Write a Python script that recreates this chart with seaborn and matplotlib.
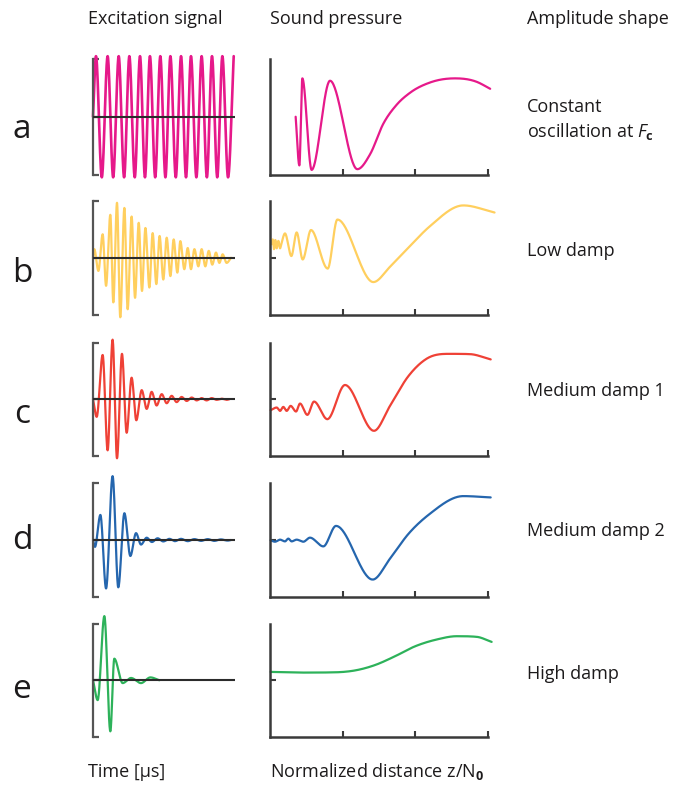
import numpy as np
import pandas as pd
import matplotlib
matplotlib.use("Agg")
import matplotlib.pyplot as plt
import seaborn as sns

# ---------------- data ----------------
ROW_LETTERS = ["a", "b", "c", "d", "e"]
SHAPE_LABELS = ["Constant\noscillation at $\\mathit{F}_{\\mathbf{c}}$", "Low damp",
                "Medium damp 1", "Medium damp 2", "High damp"]
HEADERS = ["Excitation signal", "Sound pressure", "Amplitude shape"]
FOOTERS = ["Time [\u00b5s]", "Normalized distance z/N$_{\\mathbf{0}}$"]
COLORS = ["#E6198A", "#FFCF5E", "#EF4136", "#2566AE", "#2DB25A"]

# excitation signals: extrema (time in % of window, amplitude)
A_EXC_T = [0, 2.1, 6.2, 10.3, 14.2, 18.1, 21.9, 25.6, 29.4, 33.1, 36.6, 40.1, 43.8, 47.4,
           51.0, 54.5, 58.3, 62.0, 65.5, 69.0, 72.8, 76.5, 80.2, 83.8, 87.5, 91.1, 95.1, 99.1]
A_EXC_V = [0, 1.04, -1.04, 1.04, -1.04, 1.04, -1.04, 1.04, -1.04, 1.04, -1.04, 1.04, -1.04, 1.04,
           -1.04, 1.04, -1.04, 1.04, -1.04, 1.04, -1.04, 1.04, -1.04, 1.04, -1.04, 1.04, -1.04, 1.04]
B_EXC_T = [0, 0.9, 3.8, 6.8, 9.2, 12.2, 14.3, 16.9, 19.2, 22.1, 24.4, 27.2, 29.6, 32.2, 34.5,
           36.9, 39.7, 42.0, 44.6, 46.9, 49.5, 51.9, 54.5, 56.8, 59.4, 61.5, 64.3, 66.7, 69.0,
           71.4, 74.2, 76.5, 79.1, 81.5, 84.0, 86.6, 89.0, 91.3, 94.1, 97.2]
B_EXC_V = [0, 0.15, -0.23, 0.41, -0.49, 0.75, -0.78, 0.96, -1.04, 0.87, -0.90, 0.72, -0.70,
           0.61, -0.58, 0.52, -0.52, 0.43, -0.46, 0.38, -0.38, 0.35, -0.32, 0.32, -0.26, 0.29,
           -0.20, 0.17, -0.20, 0.15, -0.15, 0.15, -0.15, 0.12, -0.12, 0.09, -0.09, 0.06, -0.09, 0.0]
C_EXC_T = [0, 2.6, 6.8, 10.3, 13.8, 16.9, 20.4, 23.7, 27.2, 30.5, 34.3, 37.8, 41.3, 44.8, 48.4,
           51.9, 55.4, 58.9, 62.4, 66.0, 69.5, 73.0, 76.5, 80.0, 83.6, 87.1, 90.6, 94.1, 96.0]
C_EXC_V = [0, -0.31, 0.78, -0.90, 1.05, -1.04, 0.80, -0.59, 0.38, -0.37, 0.16, -0.17, 0.13,
           -0.11, 0.09, -0.07, 0.06, -0.05, 0.04, -0.03, 0.03, -0.02, 0.02, -0.02, 0.02, -0.01,
           0.01, -0.01, 0]
D_EXC_T = [0, 1.4, 5.2, 9.2, 13.8, 17.8, 22.1, 26.3, 30.3, 33.8, 37.8, 41.5, 45.5, 49.5, 53.8,
           57.7, 62.0, 66.7, 71.4, 76.1, 80.8, 85.4, 90.1, 94.8, 97.2]
D_EXC_V = [0, -0.12, 0.44, -0.85, 1.12, -0.83, 0.47, -0.28, 0.12, -0.08, 0.04, -0.035, 0.03,
           -0.025, 0.02, -0.02, 0.02, -0.02, 0.015, -0.015, 0.015, -0.015, 0.01, -0.01, 0]
E_EXC_T = [0, 3.3, 8.0, 12.2, 15.0, 20.9, 26.8, 33.8, 40.4, 46.7]
E_EXC_V = [0, -0.35, 1.13, -0.90, 0.38, -0.05, 0.04, -0.05, 0.05, 0]

# sound pressure along normalized distance z/N0
A_SP_X = [0.353, 0.404, 0.445, 0.573, 0.826, 1.202, 1.376, 1.560, 1.743, 1.927, 2.202, 2.546,
          2.844, 3.03]
A_SP_Y = [0.0, -0.835, 0.659, -0.912, 0.618, -0.90, -0.647, -0.118, 0.206, 0.412, 0.588, 0.659,
          0.60, 0.48]
B_SP_X = [0.023, 0.037, 0.055, 0.073, 0.092, 0.115, 0.138, 0.16, 0.206, 0.294, 0.367, 0.45,
          0.564, 0.794, 0.927, 1.422, 1.65, 1.90, 2.20, 2.661, 3.09]
B_SP_Y = [0.236, 0.32, 0.15, 0.31, 0.165, 0.295, 0.165, 0.265, 0.425, 0.03, 0.442, -0.03,
          0.484, -0.189, 0.667, -0.425, -0.16, 0.17, 0.55, 0.914, 0.79]
C_SP_X = [0.009, 0.092, 0.138, 0.183, 0.229, 0.284, 0.358, 0.413, 0.514, 0.606, 0.789, 1.032,
          1.431, 1.65, 1.90, 2.15, 2.477, 2.752, 3.037]
C_SP_Y = [-0.193, -0.146, -0.205, -0.135, -0.205, -0.117, -0.216, -0.076, -0.275, -0.041,
          -0.351, 0.251, -0.556, -0.12, 0.40, 0.71, 0.80, 0.795, 0.702]
D_SP_X = [0.009, 0.069, 0.138, 0.206, 0.252, 0.298, 0.367, 0.459, 0.55, 0.734, 0.908, 1.413,
          1.65, 1.90, 2.20, 2.66, 3.037]
D_SP_Y = [-0.006, -0.03, 0.006, -0.024, 0.024, -0.024, 0.006, -0.03, 0.041, -0.112, 0.247,
          -0.694, -0.33, 0.10, 0.46, 0.77, 0.747]
E_SP_X = [0.009, 0.413, 0.90, 1.20, 1.45, 1.70, 2.00, 2.30, 2.569, 2.844, 3.05]
E_SP_Y = [0.147, 0.135, 0.14, 0.18, 0.27, 0.41, 0.60, 0.72, 0.776, 0.765, 0.676]

EXC = [(A_EXC_T, A_EXC_V), (B_EXC_T, B_EXC_V), (C_EXC_T, C_EXC_V), (D_EXC_T, D_EXC_V), (E_EXC_T, E_EXC_V)]
SP = [(A_SP_X, A_SP_Y), (B_SP_X, B_SP_Y), (C_SP_X, C_SP_Y), (D_SP_X, D_SP_Y), (E_SP_X, E_SP_Y)]


def smooth(x, y, n=40):
    """Smooth Hermite curve through the read points (Fritsch-Carlson limited)."""
    x = np.asarray(x, float); y = np.asarray(y, float)
    h = np.diff(x); d = np.diff(y) / h
    m = np.zeros_like(y)
    m[0], m[-1] = d[0], d[-1]
    for k in range(1, len(x) - 1):
        if d[k - 1] * d[k] > 0:
            m[k] = (d[k - 1] * h[k] + d[k] * h[k - 1]) / (h[k - 1] + h[k])
    for k in range(len(x) - 1):
        if d[k] == 0:
            m[k] = m[k + 1] = 0
            continue
        a, b = m[k] / d[k], m[k + 1] / d[k]
        s = a * a + b * b
        if s > 9:
            tau = 3 / np.sqrt(s)
            m[k] = tau * a * d[k]; m[k + 1] = tau * b * d[k]
    xs, ys = [], []
    for k in range(len(x) - 1):
        t = np.linspace(0, 1, n, endpoint=False)
        h00 = 2 * t**3 - 3 * t**2 + 1; h10 = t**3 - 2 * t**2 + t
        h01 = -2 * t**3 + 3 * t**2; h11 = t**3 - t**2
        xs.append(x[k] + t * h[k])
        ys.append(h00 * y[k] + h10 * h[k] * m[k] + h01 * y[k + 1] + h11 * h[k] * m[k + 1])
    xs.append([x[-1]]); ys.append([y[-1]])
    return np.concatenate(xs), np.concatenate(ys)


# ---------------- figure ----------------
sns.set_theme(style="white")
plt.rcParams["font.family"] = ["Open Sans", "DejaVu Sans"]
plt.rcParams["mathtext.fontset"] = "custom"
plt.rcParams["mathtext.it"] = "Open Sans:italic"
plt.rcParams["mathtext.bf"] = "Open Sans:bold"
plt.rcParams["mathtext.rm"] = "Open Sans"

W, H = 677, 787
fig = plt.figure(figsize=(W / 100, H / 100), dpi=100)
fig.patch.set_facecolor("white")


def rect(x0, y0, x1, y1):
    return [x0 / W, 1 - y1 / H, (x1 - x0) / W, (y1 - y0) / H]


TOPS = [58.5, 200.5, 342.5, 483, 623.5]
BOTS = [175, 315, 456, 597, 737]
LETTER_BASE = [138, 282, 423, 549, 698]
SHAPE_Y = [120, 251, 391, 531, 674]
TXT = "#1c1a1b"
FS = 13

for i in range(5):
    col = COLORS[i]
    # --- excitation signal
    ax = fig.add_axes(rect(93, TOPS[i], 235, BOTS[i]))
    t, v = EXC[i]
    xs, ys = smooth(t, v, n=24)
    sns.lineplot(x=xs, y=ys, ax=ax, color=col, lw=1.9 if i == 0 else 1.6,
                 estimator=None, sort=False)
    for ln in ax.lines:
        ln.set_clip_on(False)
    ax.axhline(0, color="#2b2b2b", lw=1.5, zorder=5)
    ax.set_xlim(0, 100); ax.set_ylim(-1, 1)
    for s in ["top", "right", "bottom"]:
        ax.spines[s].set_visible(False)
    ax.spines["left"].set_color("#555555"); ax.spines["left"].set_linewidth(1.6)
    ax.set_xticks([]); ax.set_yticks([-1, 0, 1])
    ax.tick_params(axis="y", direction="in", length=4, width=1.6, color="#555555",
                   labelleft=False, left=True)
    ax.set_xlabel(""); ax.set_ylabel(""); ax.patch.set_alpha(0)

    # --- sound pressure
    ax2 = fig.add_axes(rect(270, TOPS[i], 488, BOTS[i]))
    x, y = SP[i]
    xs, ys = smooth(x, y, n=40)
    sns.lineplot(x=xs, y=ys, ax=ax2, color=col, lw=1.6, estimator=None, sort=False)
    for ln in ax2.lines:
        ln.set_clip_on(False)
    ax2.set_xlim(0, 3); ax2.set_ylim(-1, 1)
    for s in ["top", "right"]:
        ax2.spines[s].set_visible(False)
    for s in ["left", "bottom"]:
        ax2.spines[s].set_color("#3a3a3a"); ax2.spines[s].set_linewidth(1.8)
    ax2.set_xticks([1, 2, 3])
    ax2.set_yticks([] if i == 0 else [0])
    ax2.tick_params(axis="both", direction="in", length=4, width=1.5, color="#3a3a3a",
                    labelleft=False, labelbottom=False, left=True, bottom=True)
    ax2.set_xlabel(""); ax2.set_ylabel(""); ax2.patch.set_alpha(0)

    # --- labels
    fig.text(22 / W, 1 - LETTER_BASE[i] / H, ROW_LETTERS[i], fontsize=24, color=TXT,
             ha="center", va="baseline")
    fig.text(527 / W, 1 - SHAPE_Y[i] / H, SHAPE_LABELS[i], fontsize=FS, color=TXT,
             ha="left", va="center", linespacing=1.3)

for xpx, s in zip([88, 270, 527], HEADERS):
    fig.text(xpx / W, 1 - 19 / H, s, fontsize=FS, color=TXT, ha="left", va="center")
for xpx, s in zip([88, 270], FOOTERS):
    fig.text(xpx / W, 1 - 772 / H, s, fontsize=FS, color=TXT, ha="left", va="center")

fig.savefig("out.png", dpi=100, facecolor="white")
